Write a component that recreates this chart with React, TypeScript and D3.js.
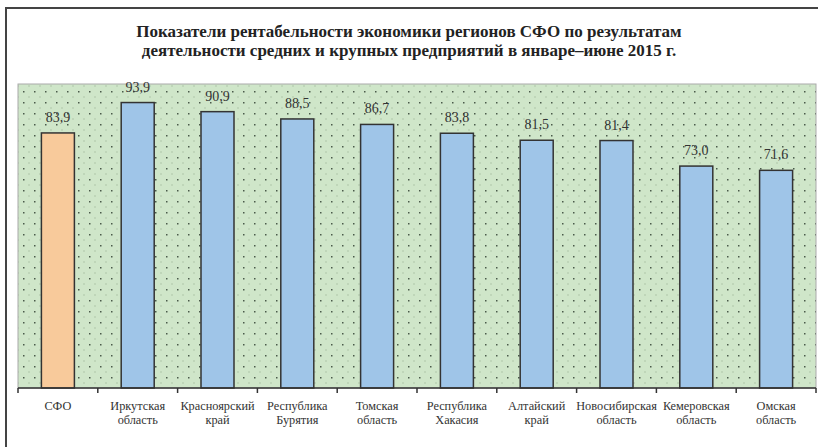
import { useEffect, useRef } from 'react';
import * as d3 from 'd3';

const titleLines = [
  'Показатели рентабельности экономики регионов СФО по результатам',
  'деятельности средних и крупных предприятий в январе–июне 2015 г.',
];

const regions = [
  ['СФО'],
  ['Иркутская', 'область'],
  ['Красноярский', 'край'],
  ['Республика', 'Бурятия'],
  ['Томская', 'область'],
  ['Республика', 'Хакасия'],
  ['Алтайский', 'край'],
  ['Новосибирская', 'область'],
  ['Кемеровская', 'область'],
  ['Омская', 'область'],
];

const values = [83.9, 93.9, 90.9, 88.5, 86.7, 83.8, 81.5, 81.4, 73.0, 71.6];

const FONT = "'Times New Roman', Times, 'Liberation Serif', 'DejaVu Serif', serif";

export default function App() {
  const svgRef = useRef<SVGSVGElement>(null);

  useEffect(() => {
    if (!svgRef.current) return;

    const svg = d3.select(svgRef.current);
    svg.selectAll('*').remove();

    const plot = { left: 18, right: 816, top: 84, bottom: 388 };

    const keys = regions.map((_, i) => String(i));

    const x = d3.scaleBand<string>()
      .domain(keys)
      .range([plot.left, plot.right])
      .padding(0);

    const y = d3.scaleLinear()
      .domain([0, 100])
      .range([plot.bottom, plot.top]);

    const barW = 33;

    // dotted background pattern
    const defs = svg.append('defs');
    const pat = defs.append('pattern')
      .attr('id', 'dots')
      .attr('patternUnits', 'userSpaceOnUse')
      .attr('width', 11)
      .attr('height', 11)
      .attr('x', plot.left + 5)
      .attr('y', plot.top + 7);
    pat.append('rect').attr('width', 11).attr('height', 11).attr('fill', '#cfe6c9');
    pat.append('rect').attr('x', 0).attr('y', 0).attr('width', 1.5).attr('height', 1.5).attr('fill', '#4a5a4a');
    pat.append('rect').attr('x', 5.5).attr('y', 5.5).attr('width', 1).attr('height', 1).attr('fill', '#8fa88c');

    // outer frame
    svg.append('rect')
      .attr('x', 6)
      .attr('y', 8)
      .attr('width', 840)
      .attr('height', 460)
      .attr('fill', '#fff')
      .attr('stroke', '#444')
      .attr('stroke-width', 2);

    // title
    svg.append('g')
      .selectAll('text')
      .data(titleLines)
      .join('text')
      .attr('x', 409)
      .attr('y', (_, i) => 37 + i * 19)
      .attr('text-anchor', 'middle')
      .style('font-family', FONT)
      .attr('font-weight', 'bold')
      .attr('font-size', 17)
      .attr('fill', '#222')
      .text(d => d);

    // plot area
    svg.append('rect')
      .attr('x', plot.left)
      .attr('y', plot.top)
      .attr('width', plot.right - plot.left)
      .attr('height', plot.bottom - plot.top)
      .attr('fill', 'url(#dots)')
      .attr('stroke', '#aaa')
      .attr('stroke-width', 1);

    // bars
    svg.append('g')
      .selectAll('rect')
      .data(values)
      .join('rect')
      .attr('x', (_, i) => x(keys[i])! + (x.bandwidth() - barW) / 2)
      .attr('y', d => y(d))
      .attr('width', barW)
      .attr('height', d => plot.bottom - y(d))
      .attr('fill', (_, i) => (i === 0 ? '#f8ca9b' : '#9fc5e8'))
      .attr('stroke', '#333')
      .attr('stroke-width', 1.5);

    // value labels
    svg.append('g')
      .selectAll('text')
      .data(values)
      .join('text')
      .attr('x', (_, i) => x(keys[i])! + x.bandwidth() / 2)
      .attr('y', d => y(d) - 11)
      .attr('text-anchor', 'middle')
      .style('font-family', FONT)
      .attr('font-size', 14)
      .attr('fill', '#333')
      .text(d => d.toFixed(1).replace('.', ','));

    // x axis
    const axis = svg.append('g');
    axis.append('line')
      .attr('x1', plot.left)
      .attr('x2', plot.right)
      .attr('y1', plot.bottom)
      .attr('y2', plot.bottom)
      .attr('stroke', '#333')
      .attr('stroke-width', 1.5);

    const tickXs = keys.map(k => x(k)!).concat([plot.right]);
    axis.selectAll('line.tick')
      .data(tickXs)
      .join('line')
      .attr('class', 'tick')
      .attr('x1', d => d)
      .attr('x2', d => d)
      .attr('y1', plot.bottom)
      .attr('y2', plot.bottom + 5)
      .attr('stroke', '#333')
      .attr('stroke-width', 1.5);

    const lbl = axis.selectAll('text')
      .data(regions)
      .join('text')
      .attr('text-anchor', 'middle')
      .style('font-family', FONT)
      .attr('font-size', 12.3)
      .attr('fill', '#333');

    lbl.each(function (d, i) {
      const t = d3.select(this);
      d.forEach((line, j) => {
        t.append('tspan')
          .attr('x', x(keys[i])! + x.bandwidth() / 2)
          .attr('y', 410 + j * 14)
          .text(line);
      });
    });
  }, []);

  return (
    <svg
      ref={svgRef}
      width={818}
      height={447}
      style={{ position: 'absolute', left: 0, top: 0, display: 'block' }}
    />
  );
}
